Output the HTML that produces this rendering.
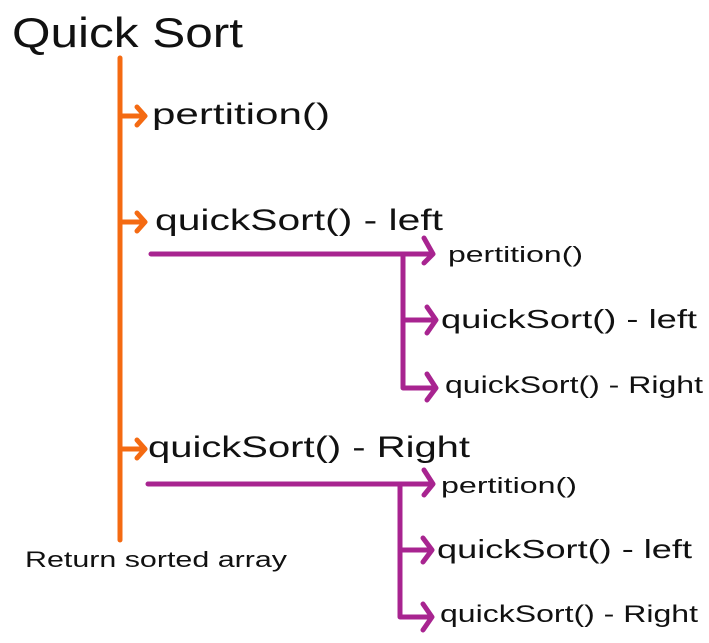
<!DOCTYPE html>
<html><head><style>
html,body{margin:0;padding:0;background:#fff;}
svg{display:block;}
text{font-family:"Liberation Sans",sans-serif;fill:#111;}
</style></head><body>
<svg width="709" height="643" viewBox="0 0 709 643">
<g stroke="#f46a12" stroke-width="5" fill="none" stroke-linecap="round" stroke-linejoin="round">
<line x1="120" y1="58" x2="120" y2="540"/>
<path d="M120 116 H144 M137 107 L145 116 L137 125"/>
<path d="M120 222 H144 M137 213 L145 222 L137 231"/>
<path d="M120 449 H144 M137 440 L145 449 L137 458"/>
</g>
<g stroke="#a82490" stroke-width="5" fill="none" stroke-linecap="round" stroke-linejoin="round">
<path d="M151 254 H433 M424 238 L433 254 L424 263"/>
<path d="M403 254 V388 H435 M427 374 L436 388 L427 400"/>
<path d="M403 320 H435 M427 307 L436 320 L427 333"/>
<path d="M148 484 H432 M424 470 L433 484 L424 495"/>
<path d="M400 484 V617 H431 M423 604 L432 617 L423 630"/>
<path d="M400 550 H431 M423 538 L432 550 L423 562"/>
</g>
<text x="12" y="47" font-size="42" textLength="231" lengthAdjust="spacingAndGlyphs">Quick Sort</text>
<text x="152" y="124" font-size="30" textLength="178" lengthAdjust="spacingAndGlyphs">pertition()</text>
<text x="155" y="230" font-size="30" textLength="288" lengthAdjust="spacingAndGlyphs">quickSort() - left</text>
<text x="448" y="262" font-size="22" textLength="135" lengthAdjust="spacingAndGlyphs">pertition()</text>
<text x="441" y="328" font-size="26" textLength="256" lengthAdjust="spacingAndGlyphs">quickSort() - left</text>
<text x="445" y="393" font-size="24" textLength="258" lengthAdjust="spacingAndGlyphs">quickSort() - Right</text>
<text x="148" y="457" font-size="30" textLength="322" lengthAdjust="spacingAndGlyphs">quickSort() - Right</text>
<text x="441" y="493" font-size="22" textLength="136" lengthAdjust="spacingAndGlyphs">pertition()</text>
<text x="437" y="558" font-size="26" textLength="255" lengthAdjust="spacingAndGlyphs">quickSort() - left</text>
<text x="440" y="622" font-size="24" textLength="258" lengthAdjust="spacingAndGlyphs">quickSort() - Right</text>
<text x="25" y="567" font-size="22" textLength="262" lengthAdjust="spacingAndGlyphs">Return sorted array</text>
</svg>
</body></html>
